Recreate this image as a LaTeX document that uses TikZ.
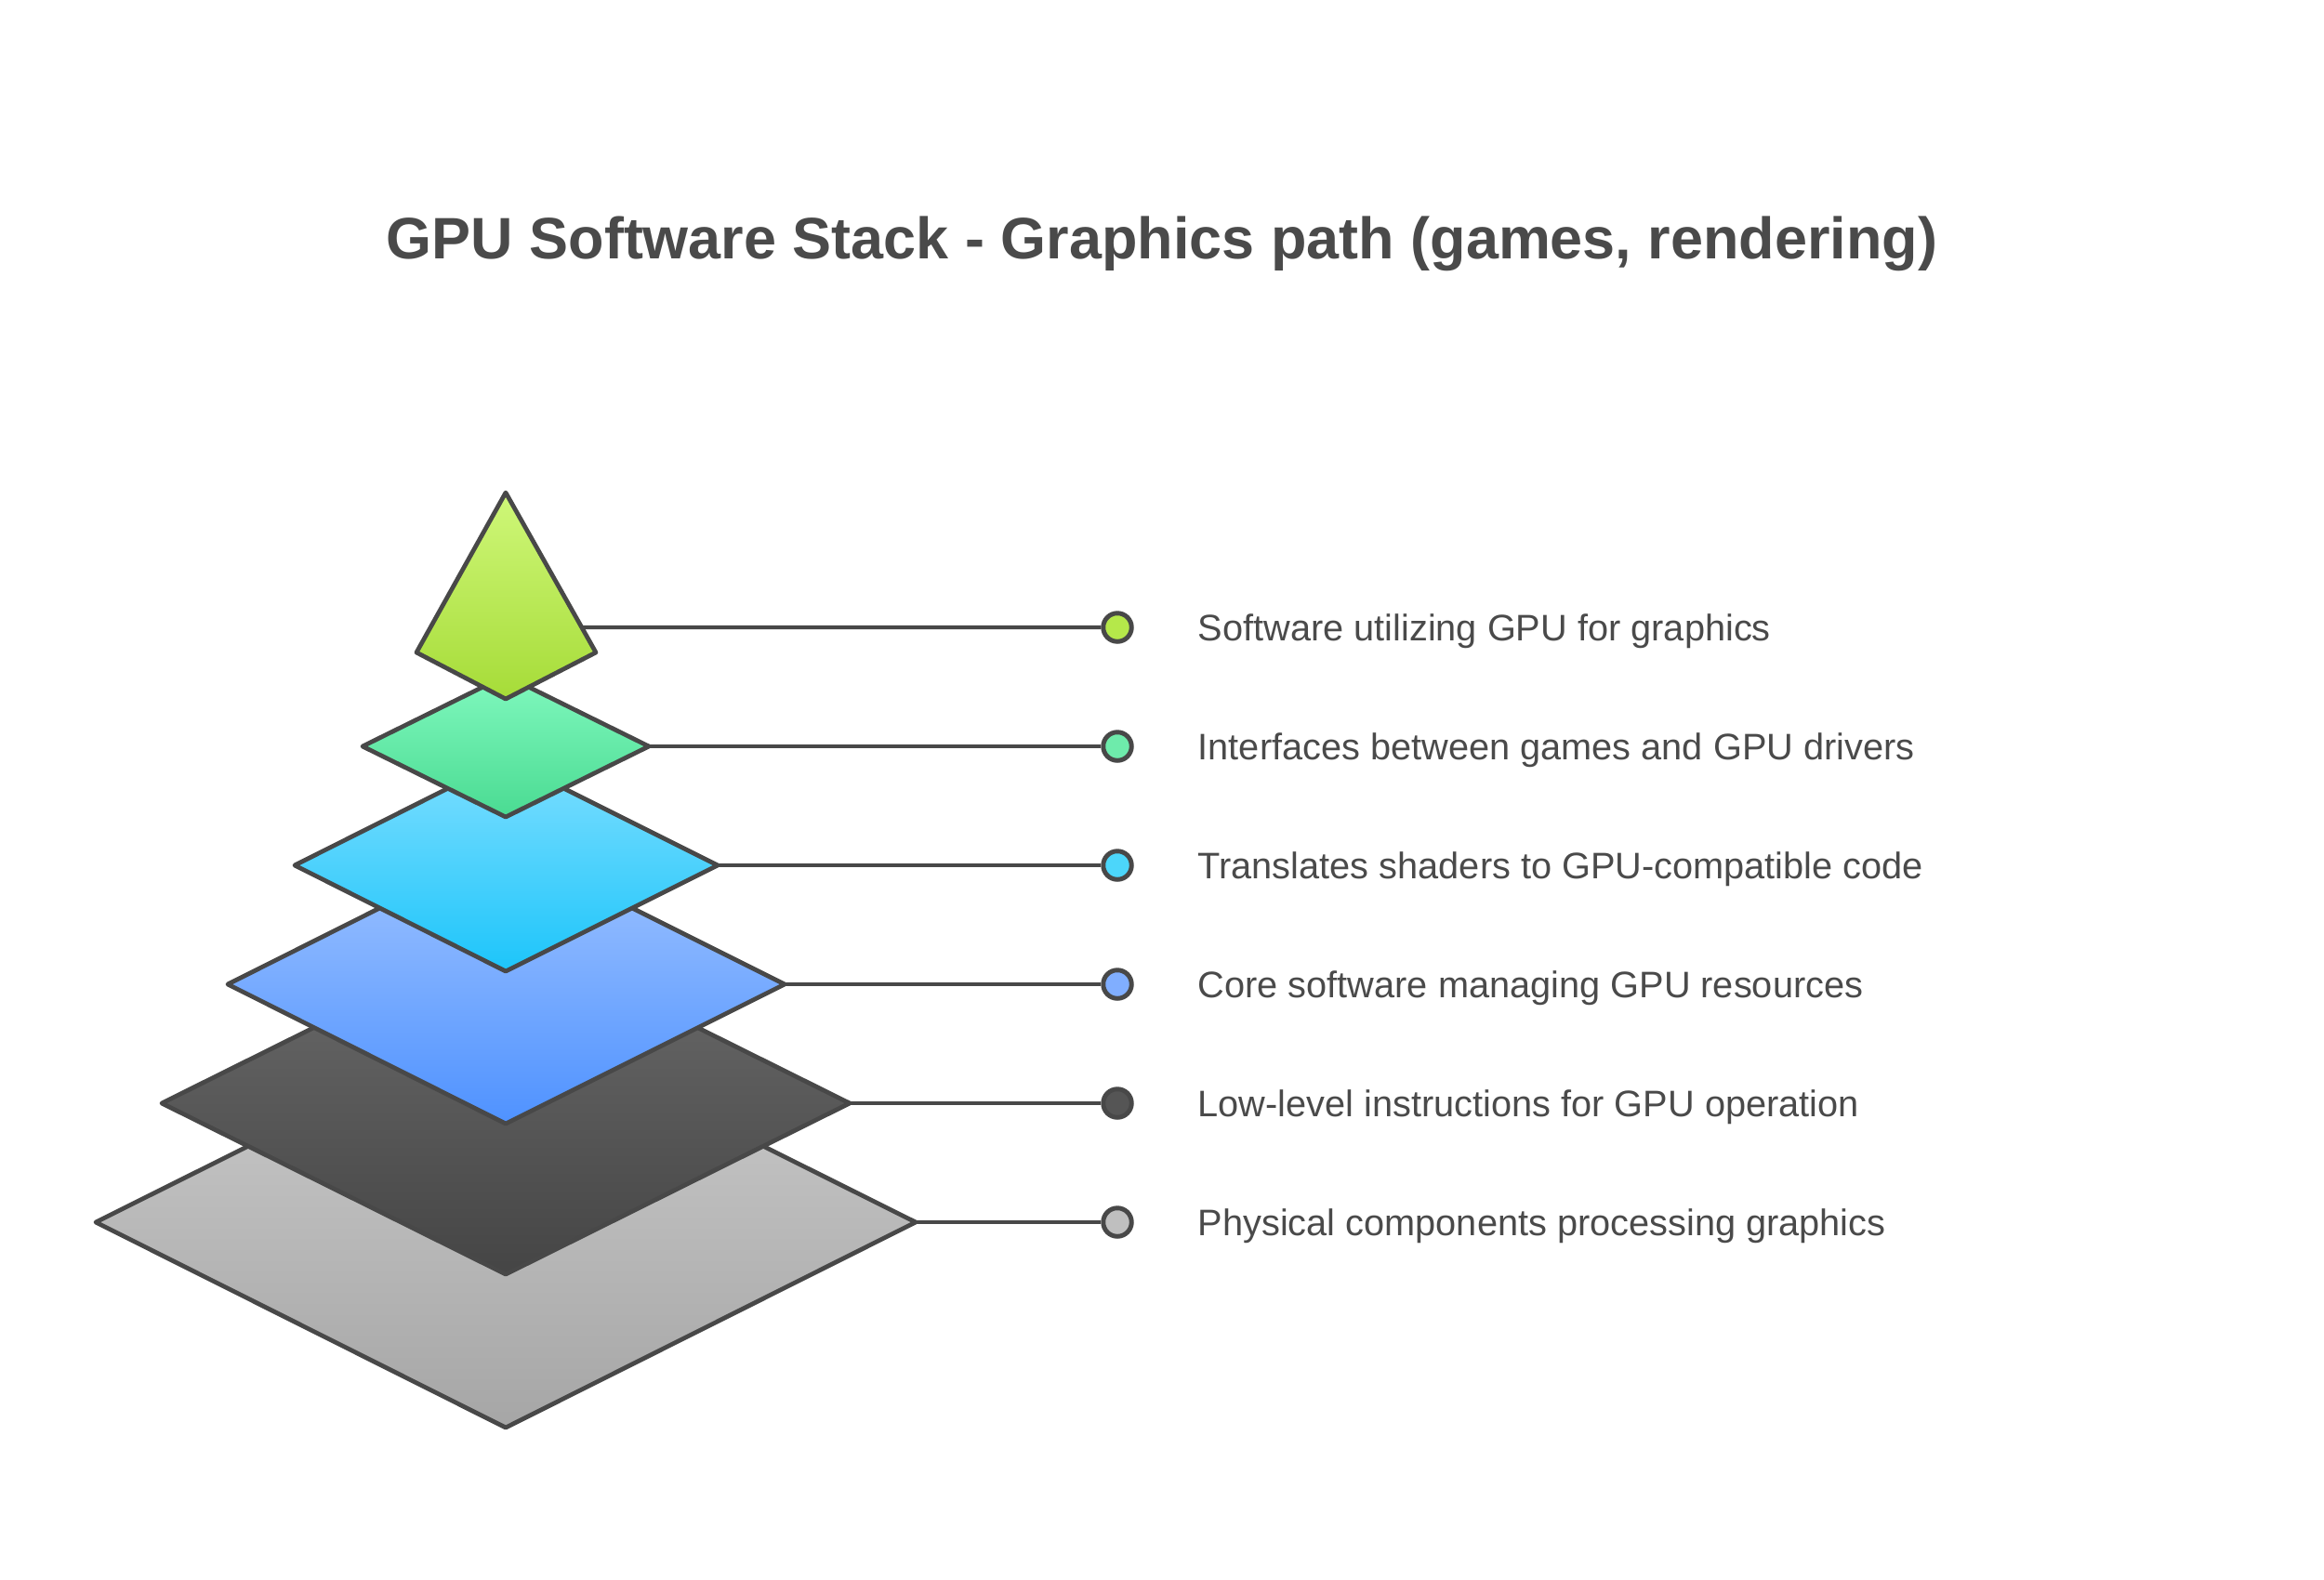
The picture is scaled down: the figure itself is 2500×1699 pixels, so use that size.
\documentclass[tikz,border=0pt]{standalone}
\usepackage{fontspec}
\setmainfont{Liberation Sans}
\usetikzlibrary{calc}
\definecolor{ink}{HTML}{484848}
\definecolor{txt}{HTML}{4A4A4A}
\definecolor{d1}{HTML}{BFBFBF}
\definecolor{d2}{HTML}{555555}
\definecolor{d3}{HTML}{80AEFF}
\definecolor{d4}{HTML}{4CD6FA}
\definecolor{d5}{HTML}{6EEBAB}
\definecolor{d6}{HTML}{B5E84A}
\definecolor{g1t}{HTML}{CCCCCC}\definecolor{g1b}{HTML}{A6A6A6}
\definecolor{g2t}{HTML}{6C6C6C}\definecolor{g2b}{HTML}{454545}
\definecolor{g3t}{HTML}{A0C4FF}\definecolor{g3b}{HTML}{4F92FF}
\definecolor{g4t}{HTML}{7DDEFF}\definecolor{g4b}{HTML}{1DC5FA}
\definecolor{g5t}{HTML}{80F8BE}\definecolor{g5b}{HTML}{4ADB92}
\definecolor{g6t}{HTML}{CFF779}\definecolor{g6b}{HTML}{A6DC38}
\tikzset{
  layer/.style={draw=ink, line width=1.35pt, line join=round},
  conn/.style={draw=ink, line width=1.25pt},
  dot/.style={circle, draw=ink, line width=1.4pt, minimum size=0.305cm, inner sep=0pt},
  lbl/.style={anchor=west, text=txt, font=\fontsize{11.3}{13}\selectfont, inner sep=0pt},
}
\begin{document}
\begin{tikzpicture}[x=0.01cm,y=-0.01cm]
\useasboundingbox[fill=white] (0,0) rectangle (2500,1699);
% title
\node[text=txt, font=\bfseries\fontsize{17.9}{21}\selectfont] (title) at (1250,262) {GPU Software Stack - Graphics path (games, rendering)};
% coordinates of right vertices
\coordinate (r1) at (985,1315);
\coordinate (r2) at (914,1187);
\coordinate (r3) at (844,1059);
\coordinate (r4) at (772,931);
\coordinate (r5) at (698,803);
\coordinate (apex) at (544,530);
\coordinate (tr) at (641,702);
\coordinate (r6) at ($(apex)!0.843!(tr)$);
% dots
\node[dot, fill=d1] (c1) at (1202,1315) {};
\node[dot, fill=d2] (c2) at (1202,1187) {};
\node[dot, fill=d3] (c3) at (1202,1059) {};
\node[dot, fill=d4] (c4) at (1202,931) {};
\node[dot, fill=d5] (c5) at (1202,803) {};
\node[dot, fill=d6] (c6) at (1202,675) {};
% connectors
\draw[conn] (r1) -- (c1);
\draw[conn] (r2) -- (c2);
\draw[conn] (r3) -- (c3);
\draw[conn] (r4) -- (c4);
\draw[conn] (r5) -- (c5);
\draw[conn] (r6) -- (c6);
% layers
\path[layer, top color=g1t, bottom color=g1b]
  (544,1095) -- (r1) -- (544,1536) -- (103,1315) -- cycle;
\path[layer, top color=g2t, bottom color=g2b]
  (544,1003) -- (r2) -- (544,1371) -- (174,1187) -- cycle;
\path[layer, top color=g3t, bottom color=g3b]
  (544,909) -- (r3) -- (544,1209) -- (245,1059) -- cycle;
\path[layer, top color=g4t, bottom color=g4b]
  (544,817) -- (r4) -- (544,1045) -- (317,931) -- cycle;
\path[layer, top color=g5t, bottom color=g5b]
  (544,727) -- (r5) -- (544,879) -- (390,803) -- cycle;
\path[layer, top color=g6t, bottom color=g6b]
  (apex) -- (tr) -- (544,752) -- (448,702) -- cycle;
% labels
\node[lbl] (t6) at (1288,679) {Software utilizing GPU for graphics};
\node[lbl] (t5) at (1288,807) {Interfaces between games and GPU drivers};
\node[lbl] (t4) at (1288,935) {Translates shaders to GPU-compatible code};
\node[lbl] (t3) at (1288,1063) {Core software managing GPU resources};
\node[lbl] (t2) at (1288,1191) {Low-level instructions for GPU operation};
\node[lbl] (t1) at (1288,1319) {Physical components processing graphics};
\end{tikzpicture}
\end{document}
